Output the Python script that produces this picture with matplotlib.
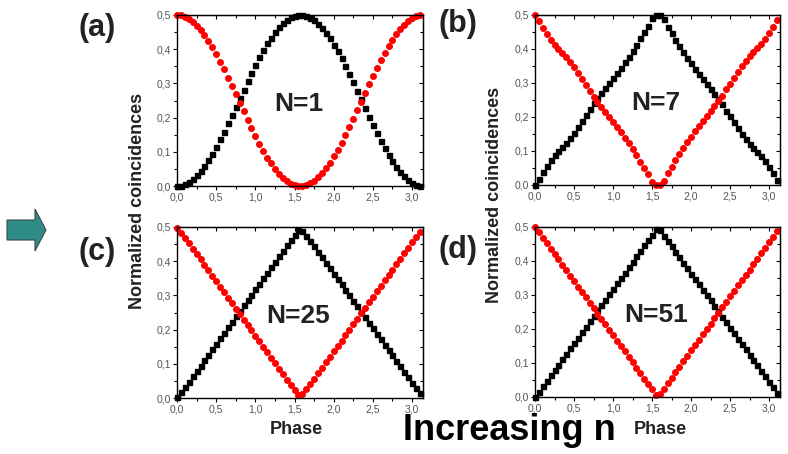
import matplotlib
matplotlib.use("Agg")
import matplotlib.pyplot as plt
from matplotlib.patches import Polygon
from matplotlib.ticker import MultipleLocator, FuncFormatter

plt.rcParams['font.family'] = ['Liberation Sans', 'DejaVu Sans']

# phase grid shared by every curve
phase = [0.00, 0.05, 0.10, 0.15, 0.20, 0.25, 0.30, 0.35, 0.40, 0.45,
         0.50, 0.55, 0.60, 0.65, 0.70, 0.75, 0.80, 0.85, 0.90, 0.95,
         1.00, 1.05, 1.10, 1.15, 1.20, 1.25, 1.30, 1.35, 1.40, 1.45,
         1.50, 1.55, 1.60,
         1.65, 1.70, 1.75, 1.80, 1.85, 1.90, 1.95, 2.00, 2.05, 2.10,
         2.15, 2.20, 2.25, 2.30, 2.35, 2.40, 2.45, 2.50, 2.55, 2.60,
         2.65, 2.70, 2.75, 2.80, 2.85, 2.90, 2.95, 3.00, 3.05, 3.10]

# N = 1
black_n1 = [0.000, 0.001, 0.005, 0.011, 0.020, 0.031, 0.044, 0.059, 0.076, 0.095,
            0.115, 0.136, 0.159, 0.183, 0.208, 0.232, 0.257, 0.282, 0.307, 0.331,
            0.354, 0.376, 0.397, 0.417, 0.434, 0.450, 0.464, 0.476, 0.486, 0.493,
            0.497, 0.500, 0.500,
            0.497, 0.492, 0.484, 0.474, 0.462, 0.448, 0.432, 0.413, 0.394, 0.373,
            0.350, 0.327, 0.303, 0.278, 0.253, 0.228, 0.203, 0.179, 0.155, 0.133,
            0.111, 0.091, 0.073, 0.056, 0.041, 0.029, 0.018, 0.010, 0.004, 0.001]
red_n1 = [0.500, 0.499, 0.495, 0.489, 0.480, 0.469, 0.456, 0.441, 0.424, 0.405,
          0.385, 0.364, 0.341, 0.317, 0.292, 0.268, 0.243, 0.218, 0.193, 0.169,
          0.146, 0.124, 0.103, 0.083, 0.066, 0.050, 0.036, 0.024, 0.014, 0.007,
          0.003, 0.000, 0.000,
          0.003, 0.008, 0.016, 0.026, 0.038, 0.052, 0.068, 0.087, 0.106, 0.127,
          0.150, 0.173, 0.197, 0.222, 0.247, 0.272, 0.297, 0.321, 0.345, 0.367,
          0.389, 0.409, 0.427, 0.444, 0.459, 0.471, 0.482, 0.490, 0.496, 0.499]

# N = 7
black_n7 = [0.000, 0.019, 0.038, 0.056, 0.073, 0.088, 0.100, 0.113, 0.125, 0.139,
            0.154, 0.170, 0.188, 0.205, 0.223, 0.240, 0.256, 0.271, 0.285, 0.300,
            0.314, 0.330, 0.345, 0.361, 0.377, 0.395, 0.412, 0.431, 0.450, 0.469,
            0.490, 0.500, 0.500,
            0.488, 0.466, 0.446, 0.427, 0.409, 0.391, 0.374, 0.358, 0.342, 0.327,
            0.311, 0.297, 0.282, 0.268, 0.253, 0.237, 0.219, 0.202, 0.184, 0.167,
            0.151, 0.136, 0.122, 0.110, 0.098, 0.085, 0.070, 0.052, 0.034, 0.015]
red_n7 = [0.500, 0.481, 0.462, 0.444, 0.427, 0.412, 0.400, 0.387, 0.375, 0.361,
          0.346, 0.330, 0.312, 0.295, 0.277, 0.260, 0.244, 0.229, 0.215, 0.200,
          0.186, 0.170, 0.155, 0.139, 0.123, 0.105, 0.088, 0.069, 0.050, 0.031,
          0.010, 0.000, 0.000,
          0.012, 0.034, 0.054, 0.073, 0.091, 0.109, 0.126, 0.142, 0.158, 0.173,
          0.189, 0.203, 0.218, 0.232, 0.247, 0.263, 0.281, 0.298, 0.316, 0.333,
          0.349, 0.364, 0.378, 0.390, 0.402, 0.415, 0.430, 0.448, 0.466, 0.485]

# N = 25
black_n25 = [0.004, 0.017, 0.032, 0.048, 0.064, 0.080, 0.095, 0.111, 0.127, 0.143,
             0.159, 0.175, 0.191, 0.207, 0.223, 0.239, 0.255, 0.271, 0.286, 0.302,
             0.318, 0.334, 0.350, 0.366, 0.382, 0.398, 0.414, 0.430, 0.446, 0.462,
             0.477, 0.490, 0.489,
             0.475, 0.459, 0.443, 0.427, 0.411, 0.395, 0.379, 0.363, 0.347, 0.332,
             0.316, 0.300, 0.284, 0.268, 0.252, 0.236, 0.220, 0.204, 0.188, 0.172,
             0.156, 0.141, 0.125, 0.109, 0.093, 0.077, 0.061, 0.045, 0.029, 0.015]
red_n25 = [0.496, 0.483, 0.468, 0.452, 0.436, 0.420, 0.405, 0.389, 0.373, 0.357,
           0.341, 0.325, 0.309, 0.293, 0.277, 0.261, 0.245, 0.229, 0.214, 0.198,
           0.182, 0.166, 0.150, 0.134, 0.118, 0.102, 0.086, 0.070, 0.054, 0.038,
           0.023, 0.010, 0.011,
           0.025, 0.041, 0.057, 0.073, 0.089, 0.105, 0.121, 0.137, 0.153, 0.168,
           0.184, 0.200, 0.216, 0.232, 0.248, 0.264, 0.280, 0.296, 0.312, 0.328,
           0.344, 0.359, 0.375, 0.391, 0.407, 0.423, 0.439, 0.455, 0.471, 0.485]

# N = 51
black_n51 = [0.000, 0.016, 0.032, 0.048, 0.064, 0.080, 0.095, 0.111, 0.127, 0.143,
             0.159, 0.175, 0.191, 0.207, 0.223, 0.239, 0.255, 0.271, 0.286, 0.302,
             0.318, 0.334, 0.350, 0.366, 0.382, 0.398, 0.414, 0.430, 0.446, 0.462,
             0.477, 0.493, 0.491,
             0.475, 0.459, 0.443, 0.427, 0.411, 0.395, 0.379, 0.363, 0.347, 0.332,
             0.316, 0.300, 0.284, 0.268, 0.252, 0.236, 0.220, 0.204, 0.188, 0.172,
             0.156, 0.141, 0.125, 0.109, 0.093, 0.077, 0.061, 0.045, 0.029, 0.013]
red_n51 = [0.500, 0.484, 0.468, 0.452, 0.436, 0.420, 0.405, 0.389, 0.373, 0.357,
           0.341, 0.325, 0.309, 0.293, 0.277, 0.261, 0.245, 0.229, 0.214, 0.198,
           0.182, 0.166, 0.150, 0.134, 0.118, 0.102, 0.086, 0.070, 0.054, 0.038,
           0.023, 0.007, 0.009,
           0.025, 0.041, 0.057, 0.073, 0.089, 0.105, 0.121, 0.137, 0.153, 0.168,
           0.184, 0.200, 0.216, 0.232, 0.248, 0.264, 0.280, 0.296, 0.312, 0.328,
           0.344, 0.359, 0.375, 0.391, 0.407, 0.423, 0.439, 0.455, 0.471, 0.487]

panel_tags = ["(a)", "(b)", "(c)", "(d)"]
n_labels = ["N=1", "N=7", "N=25", "N=51"]
blacks = [black_n1, black_n7, black_n25, black_n51]
reds = [red_n1, red_n7, red_n25, red_n51]

W, H = 788, 454
fig = plt.figure(figsize=(W / 100, H / 100), dpi=100)

# axes boxes in pixels: left, top, right, bottom
boxes = [(177, 15, 423, 186), (535, 15, 780, 185),
         (177, 227, 423, 398), (535, 227, 780, 397)]
tag_pos = [(97, 28), (458, 24), (97, 252), (458, 250)]

comma = FuncFormatter(lambda v, p: ("%.1f" % v).replace(".", ","))
blank = FuncFormatter(lambda v, p: "")

for i in range(4):
    l, t, r, b = boxes[i]
    ax = fig.add_axes([l / W, 1 - b / H, (r - l) / W, (b - t) / H])
    ax.plot(phase, blacks[i], ls="none", marker="s", ms=3.6, color="black",
            mec="black", clip_on=False)
    ax.plot(phase, reds[i], ls="none", marker="o", ms=4.0, color="#ff0000",
            mec="#ff0000", clip_on=False)
    ax.set_xlim(0, 3.14)
    ax.set_ylim(0, 0.5)
    ax.xaxis.set_major_locator(MultipleLocator(0.5))
    ax.xaxis.set_minor_locator(MultipleLocator(0.25))
    ax.yaxis.set_major_locator(MultipleLocator(0.1))
    ax.yaxis.set_minor_locator(MultipleLocator(0.05))
    ax.xaxis.set_major_formatter(comma)
    ax.yaxis.set_major_formatter(comma)
    ax.tick_params(which="both", direction="out", labelsize=7.5,
                   labelcolor="#555555", width=0.8, pad=1.5)
    ax.tick_params(which="major", length=3)
    ax.tick_params(which="minor", length=2)
    # inward ticks on the top and right frame
    top = ax.secondary_xaxis("top")
    top.xaxis.set_major_locator(MultipleLocator(0.5))
    top.xaxis.set_minor_locator(MultipleLocator(0.25))
    top.xaxis.set_major_formatter(blank)
    right = ax.secondary_yaxis("right")
    right.yaxis.set_major_locator(MultipleLocator(0.1))
    right.yaxis.set_minor_locator(MultipleLocator(0.05))
    right.yaxis.set_major_formatter(blank)
    for sec in (top, right):
        sec.tick_params(which="both", direction="in", width=0.8)
        sec.tick_params(which="major", length=3)
        sec.tick_params(which="minor", length=2)
    for s in ax.spines.values():
        s.set_linewidth(1.0)
    ax.text(1.55, 0.24, n_labels[i], ha="center", va="center",
            fontsize=19, fontweight="bold", color="#222222")
    fig.text(tag_pos[i][0] / W, 1 - tag_pos[i][1] / H, panel_tags[i],
             ha="center", va="center", fontsize=22, fontweight="bold",
             color="#222222")

# axis titles shared by each column
fig.text(137 / W, 1 - 201 / H, "Normalized coincidences", rotation=90,
         ha="center", va="center", fontsize=13, fontweight="bold", color="#222222")
fig.text(494 / W, 1 - 195 / H, "Normalized coincidences", rotation=90,
         ha="center", va="center", fontsize=13, fontweight="bold", color="#222222")
fig.text(296 / W, 1 - 429 / H, "Phase", ha="center", va="center",
         fontsize=13, fontweight="bold", color="#222222")
fig.text(660 / W, 1 - 429 / H, "Phase", ha="center", va="center",
         fontsize=13, fontweight="bold", color="#222222")
fig.text(403 / W, 1 - 431 / H, "Increasing n", ha="left", va="center",
         fontsize=26, fontweight="bold", color="black")

# teal block arrow at the left edge
arrow_px = [(7, 220), (35, 220), (35, 209), (46, 230), (35, 251), (35, 240), (7, 240)]
arrow = Polygon([(x / W, 1 - y / H) for x, y in arrow_px], closed=True,
                transform=fig.transFigure, facecolor="#2e8b87", edgecolor="#3a4a4a",
                linewidth=0.8)
fig.patches.append(arrow)

fig.savefig("out.png", dpi=100)
